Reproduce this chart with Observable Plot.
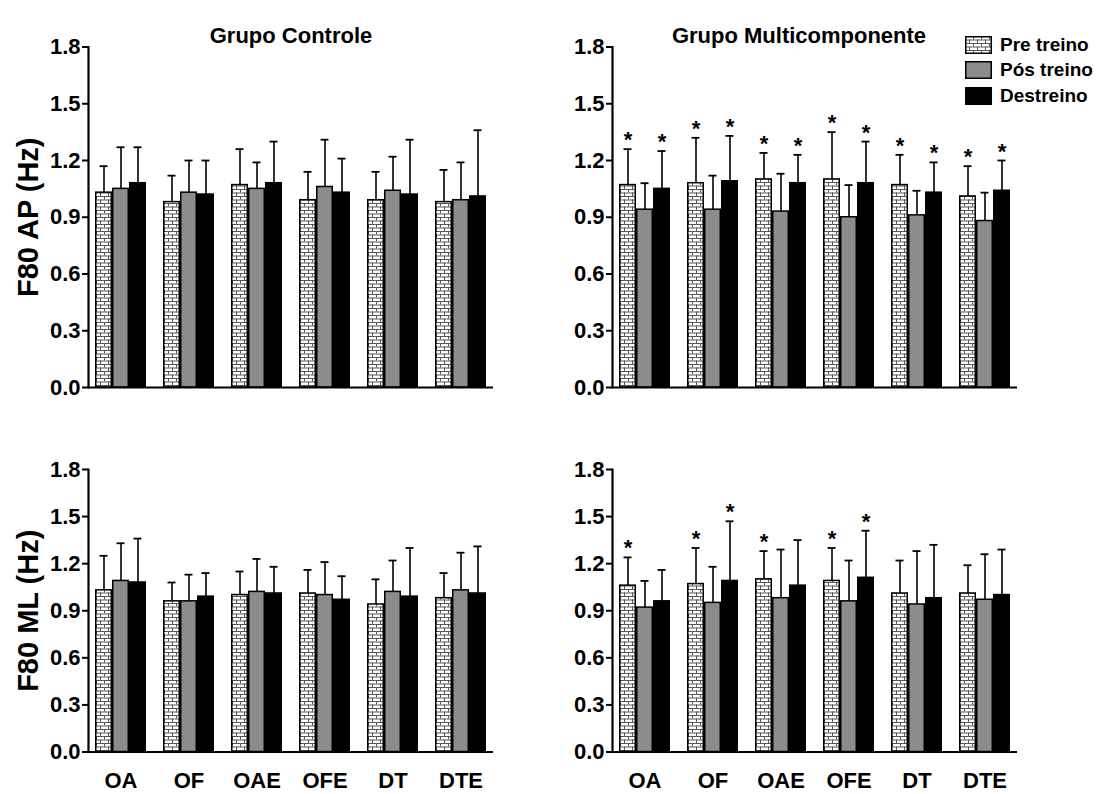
<!DOCTYPE html>
<html><head><meta charset="utf-8">
<script src="https://cdn.jsdelivr.net/npm/d3@7"></script>
<script src="https://cdn.jsdelivr.net/npm/@observablehq/plot@0.6"></script>
<style>
body{margin:0;background:#fff;font-family:"Liberation Sans",Arial,sans-serif;}
#wrap{position:relative;width:1103px;height:794px;overflow:hidden;}
.panel{position:absolute;}
#legend{position:absolute;left:965px;top:32px;font-weight:bold;font-size:19px;color:#000;}
#legend .row{display:flex;align-items:center;height:25.5px;}
</style></head><body>
<svg width="0" height="0" style="position:absolute">
 <defs><pattern id="brick" patternUnits="userSpaceOnUse" width="8" height="7">
   <rect width="8" height="7" fill="#fff"/>
   <path d="M0 0.5H8M0 4H8M0.5 0V3.5M4.5 3.5V7" stroke="#555" stroke-width="1" fill="none"/>
 </pattern></defs></svg>
<div id="wrap"></div>
<script>
const groups = ["OA", "OF", "OAE", "OFE", "DT", "DTE"];
const series = ["Pre treino", "Pós treino", "Destreino"];
const yTicks = [0, 0.3, 0.6, 0.9, 1.2, 1.5, 1.8];
const titles = ["Grupo Controle", "Grupo Multicomponente"];
const yLabels = ["F80 AP (Hz)", "F80 ML (Hz)"];

// Grupo Controle - F80 AP : means and SD (upper error)
const ctrlAP_pre_mean  = [1.03, 0.98, 1.07, 0.99, 0.99, 0.98];
const ctrlAP_pre_sd    = [0.14, 0.14, 0.19, 0.15, 0.15, 0.17];
const ctrlAP_pos_mean  = [1.05, 1.03, 1.05, 1.06, 1.04, 0.99];
const ctrlAP_pos_sd    = [0.22, 0.17, 0.14, 0.25, 0.18, 0.20];
const ctrlAP_des_mean  = [1.08, 1.02, 1.08, 1.03, 1.02, 1.01];
const ctrlAP_des_sd    = [0.19, 0.18, 0.22, 0.18, 0.29, 0.35];

// Grupo Multicomponente - F80 AP
const multAP_pre_mean  = [1.07, 1.08, 1.10, 1.10, 1.07, 1.01];
const multAP_pre_sd    = [0.19, 0.24, 0.14, 0.25, 0.16, 0.16];
const multAP_pos_mean  = [0.94, 0.94, 0.93, 0.90, 0.91, 0.88];
const multAP_pos_sd    = [0.14, 0.18, 0.20, 0.17, 0.13, 0.15];
const multAP_des_mean  = [1.05, 1.09, 1.08, 1.08, 1.03, 1.04];
const multAP_des_sd    = [0.20, 0.24, 0.15, 0.22, 0.16, 0.16];
const multAP_pre_star  = [true, true, true, true, true, true];
const multAP_des_star  = [true, true, true, true, true, true];

// Grupo Controle - F80 ML
const ctrlML_pre_mean  = [1.03, 0.96, 1.00, 1.01, 0.94, 0.98];
const ctrlML_pre_sd    = [0.22, 0.12, 0.15, 0.15, 0.16, 0.16];
const ctrlML_pos_mean  = [1.09, 0.96, 1.02, 1.00, 1.02, 1.03];
const ctrlML_pos_sd    = [0.24, 0.17, 0.21, 0.21, 0.20, 0.24];
const ctrlML_des_mean  = [1.08, 0.99, 1.01, 0.97, 0.99, 1.01];
const ctrlML_des_sd    = [0.28, 0.15, 0.17, 0.15, 0.31, 0.30];

// Grupo Multicomponente - F80 ML
const multML_pre_mean  = [1.06, 1.07, 1.10, 1.09, 1.01, 1.01];
const multML_pre_sd    = [0.18, 0.23, 0.18, 0.21, 0.21, 0.18];
const multML_pos_mean  = [0.92, 0.95, 0.98, 0.96, 0.94, 0.97];
const multML_pos_sd    = [0.17, 0.23, 0.31, 0.26, 0.34, 0.29];
const multML_des_mean  = [0.96, 1.09, 1.06, 1.11, 0.98, 1.00];
const multML_des_sd    = [0.20, 0.38, 0.29, 0.30, 0.34, 0.29];
const multML_pre_star  = [true, true, true, true, false, false];
const multML_des_star  = [false, true, false, true, false, false];

const none = groups.map(() => false);

function rowsOf(means, sds, stars) {
  const out = [];
  groups.forEach((g, i) => {
    series.forEach((s, j) => {
      out.push({group: g, series: s, key: g + "|" + s, mean: means[j][i], top: means[j][i] + sds[j][i], star: stars[j][i]});
    });
  });
  return out;
}

const xDomain = groups.flatMap((g, i) => [...series.map(s => g + "|" + s), ...(i < groups.length - 1 ? [g + "|gap"] : [])]);
const FONT = "'Liberation Sans', Arial, sans-serif";

function panel({rows, left, top, width, height, mt, mb, ml, mr, title, titleDx, ylabel, xlabels}) {
  const chart = Plot.plot({
    width, height, marginTop: mt, marginBottom: mb, marginLeft: ml, marginRight: mr,
    style: {fontFamily: FONT, color: "#000", background: "transparent", overflow: "visible"},
    x: {domain: xDomain, padding: 0, axis: null},
    y: {domain: [0, 1.8], axis: null},
    color: {domain: series, range: ["url(#brick)", "#8c8c8c", "#000"]},
    marks: [
      Plot.ruleX(rows, {x: "key", y1: "mean", y2: "top", stroke: "#000", strokeWidth: 1.6}),
      Plot.tickY(rows, {x: "key", y: "top", stroke: "#000", strokeWidth: 1.8, insetLeft: 4.5, insetRight: 4.5}),
      Plot.barY(rows, {x: "key", y: "mean", fill: "series", stroke: "#000", strokeWidth: 1.5, insetLeft: 0.75, insetRight: 0.75}),
      Plot.text(rows.filter(d => d.star), {x: "key", y: "top", text: () => "*", dy: -9, fontSize: 22, fontWeight: "bold", fill: "#000"}),
      Plot.ruleY([0], {stroke: "#000", strokeWidth: 2.2}),
      Plot.frame({anchor: "left", stroke: "#000", strokeWidth: 2.2}),
      Plot.axisY(yTicks, {tickSize: 6, tickPadding: 2, strokeWidth: 2, fontSize: 22, fontWeight: "bold", tickFormat: d => d.toFixed(1), label: null}),
      xlabels ? Plot.axisX(groups.map(g => g + "|Pós treino"), {tickSize: 0, tickPadding: 20, tickFormat: d => d.split("|")[0], fontSize: 22, fontWeight: "bold", label: null}) : null,
      title ? Plot.text([title], {frameAnchor: "top", textAnchor: "middle", dy: -20, dx: titleDx, fontSize: 22, fontWeight: "bold"}) : null,
      ylabel ? Plot.text([ylabel], {frameAnchor: "left", textAnchor: "middle", dx: -60, rotate: -90, fontSize: 29, fontWeight: "bold"}) : null
    ]
  });
  const div = document.createElement("div");
  div.className = "panel";
  div.style.left = left + "px";
  div.style.top = top + "px";
  div.appendChild(chart);
  document.getElementById("wrap").appendChild(div);
}

panel({rows: rowsOf([ctrlAP_pre_mean, ctrlAP_pos_mean, ctrlAP_des_mean], [ctrlAP_pre_sd, ctrlAP_pos_sd, ctrlAP_des_sd], [none, none, none]),
  left: 0, top: 0, width: 550, height: 400, mt: 46.5, mb: 13, ml: 88, mr: 57, title: titles[0], titleDx: 0, ylabel: yLabels[0], xlabels: false});
panel({rows: rowsOf([multAP_pre_mean, multAP_pos_mean, multAP_des_mean], [multAP_pre_sd, multAP_pos_sd, multAP_des_sd], [multAP_pre_star, none, multAP_des_star]),
  left: 524, top: 0, width: 579, height: 400, mt: 46.5, mb: 13, ml: 88, mr: 86, title: titles[1], titleDx: -16, ylabel: null, xlabels: false});
panel({rows: rowsOf([ctrlML_pre_mean, ctrlML_pos_mean, ctrlML_des_mean], [ctrlML_pre_sd, ctrlML_pos_sd, ctrlML_des_sd], [none, none, none]),
  left: 0, top: 400, width: 550, height: 394, mt: 69, mb: 42.5, ml: 88, mr: 57, title: null, ylabel: yLabels[1], xlabels: true});
panel({rows: rowsOf([multML_pre_mean, multML_pos_mean, multML_des_mean], [multML_pre_sd, multML_pos_sd, multML_des_sd], [multML_pre_star, none, multML_des_star]),
  left: 524, top: 400, width: 579, height: 394, mt: 69, mb: 42.5, ml: 88, mr: 86, title: null, ylabel: null, xlabels: true});

// legend
const legend = document.createElement("div");
legend.id = "legend";
const swFill = ["url(#brick)", "#8c8c8c", "#000"];
series.forEach((s, i) => {
  const row = document.createElement("div");
  row.className = "row";
  const sw = document.createElementNS("http://www.w3.org/2000/svg", "svg");
  sw.setAttribute("width", 27); sw.setAttribute("height", 18);
  sw.style.marginRight = "8px";
  const r = document.createElementNS("http://www.w3.org/2000/svg", "rect");
  r.setAttribute("x", 0.75); r.setAttribute("y", 0.75); r.setAttribute("width", 25.5); r.setAttribute("height", 16.5);
  r.setAttribute("fill", swFill[i]); r.setAttribute("stroke", "#000"); r.setAttribute("stroke-width", 1.5);
  sw.appendChild(r);
  const t = document.createElement("span");
  t.textContent = s;
  row.appendChild(sw); row.appendChild(t);
  legend.appendChild(row);
});
document.getElementById("wrap").appendChild(legend);
</script>
</body></html>
